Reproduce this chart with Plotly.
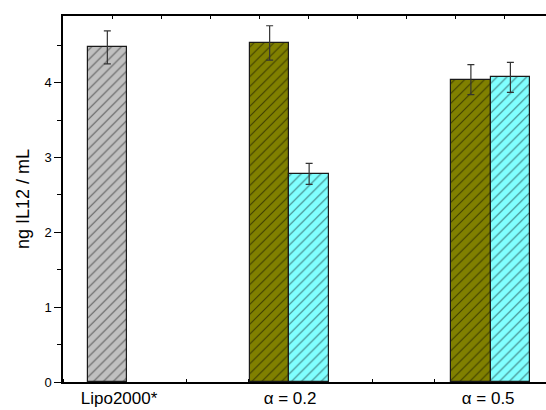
import plotly.graph_objects as go

# ---- data ----
categories = ["Lipo2000*", "α = 0.2", "α = 0.5"]
group_pos = [0.716, 3.656, 6.906]          # category centres on the x scale
label_pos = [0.905, 3.667, 6.866]          # where the category labels sit

lipo_val = [4.47]
lipo_err = [0.22]
olive_vals = [4.53, 4.04]                  # alpha = 0.2, alpha = 0.5
olive_errs = [0.23, 0.20]
cyan_vals = [2.78, 4.07]
cyan_errs = [0.14, 0.20]

bar_w = 0.638
y_max = 4.89
x_max = 7.80

fig = go.Figure()

def add_bar(x, y, err, fill):
    fig.add_trace(go.Bar(
        x=x, y=y, width=bar_w,
        marker=dict(color=fill,
                    line=dict(color="#1a1a1a", width=1.2),
                    pattern=dict(shape="/", fgcolor="#000000", size=7, solidity=0.16)),
        error_y=dict(type="data", array=err, visible=True,
                     color="#333333", thickness=1.2, width=3.5),
        showlegend=False,
    ))

add_bar([group_pos[0]], lipo_val, lipo_err, "#c0c0c0")
add_bar([p - bar_w / 2 for p in group_pos[1:]], olive_vals, olive_errs, "#808000")
add_bar([p + bar_w / 2 for p in group_pos[1:]], cyan_vals, cyan_errs, "#80ffff")

# invisible trace to activate the top axis
fig.add_trace(go.Scatter(x=[0], y=[0], xaxis="x2", mode="markers",
                         marker=dict(opacity=0), showlegend=False, hoverinfo="skip"))

fig.update_layout(
    width=546, height=410,
    margin=dict(l=63, r=0, t=16, b=28),
    plot_bgcolor="white", paper_bgcolor="white",
    barmode="overlay", bargap=0,
    font=dict(family="Liberation Sans, Arial, sans-serif", color="#000000"),
    xaxis=dict(
        range=[0, x_max], showgrid=False, zeroline=False,
        showline=True, linecolor="#000000", linewidth=1.5,
        tickmode="array", tickvals=label_pos, ticktext=categories,
        ticks="", tickfont=dict(size=17),
        minor=dict(ticks="inside", dtick=1, tick0=0, ticklen=3,
                   tickcolor="#000000", tickwidth=1, showgrid=False),
        layer="below traces",
    ),
    xaxis2=dict(
        overlaying="x", side="top", range=[0, 9.84], showgrid=False, zeroline=False,
        showline=True, linecolor="#000000", linewidth=1.8,
        dtick=1, tick0=0, ticks="inside", ticklen=3, tickwidth=1, tickcolor="#000000",
        showticklabels=False,
    ),
    yaxis=dict(
        range=[0, y_max], showgrid=False, zeroline=False,
        showline=True, linecolor="#000000", linewidth=1.5,
        dtick=1, tick0=0, ticks="outside", ticklen=7, tickwidth=1, tickcolor="#000000",
        tickfont=dict(size=13),
        minor=dict(ticks="outside", dtick=0.5, tick0=0, ticklen=4,
                   tickcolor="#000000", tickwidth=1, showgrid=False),
        title=dict(text="ng IL12 / mL", font=dict(size=18), standoff=10),
    ),
)

fig.write_html("out.html", config={"displayModeBar": False},
               post_script="document.body.style.margin='0';")
